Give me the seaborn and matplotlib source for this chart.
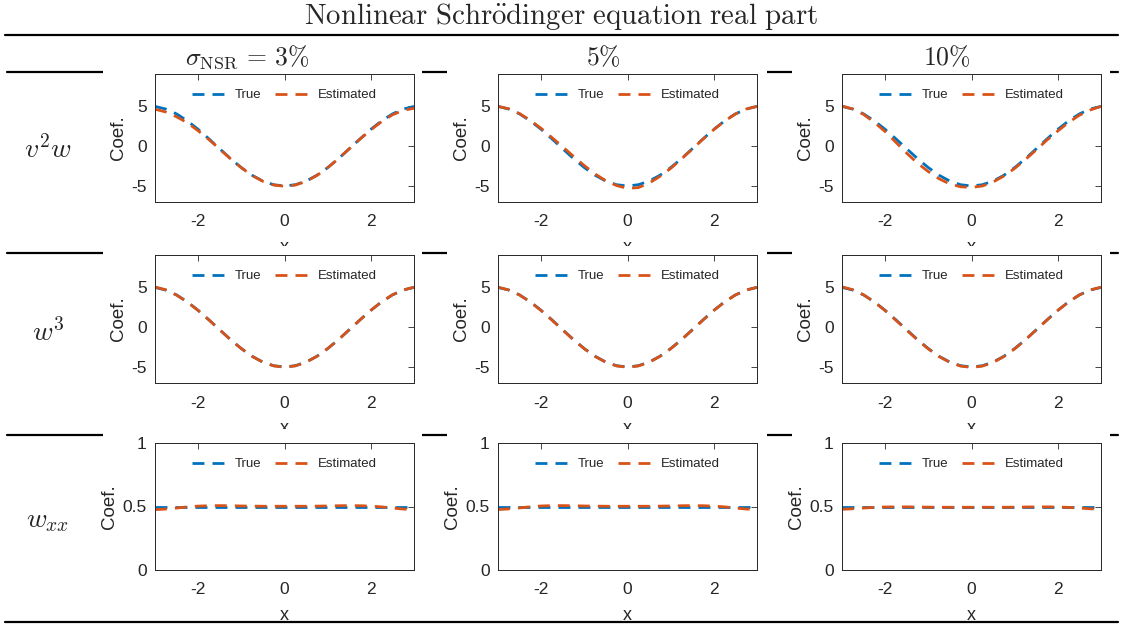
import numpy as np
import pandas as pd
import matplotlib
matplotlib.use("Agg")
import matplotlib.pyplot as plt
from matplotlib.lines import Line2D
from matplotlib.patches import Rectangle
import seaborn as sns

# ---------------- data ----------------
x_vals = [-3.0, -2.75, -2.5, -2.25, -2.0, -1.75, -1.5, -1.25, -1.0, -0.75, -0.5, -0.25,
          0.0, 0.25, 0.5, 0.75, 1.0, 1.25, 1.5, 1.75, 2.0, 2.25, 2.5, 2.75, 3.0]

true_v2w = [4.95, 4.62, 4.01, 3.14, 2.08, 0.89, -0.35, -1.58, -2.70, -3.66, -4.39, -4.84,
            -5.00, -4.84, -4.39, -3.66, -2.70, -1.58, -0.35, 0.89, 2.08, 3.14, 4.01, 4.62, 4.95]
est_v2w_3 = [4.60, 4.25, 3.65, 2.90, 1.90, 0.80, -0.40, -1.60, -2.72, -3.68, -4.42, -4.88,
             -5.03, -4.88, -4.42, -3.68, -2.72, -1.58, -0.35, 0.86, 2.02, 3.05, 3.90, 4.45, 4.72]
est_v2w_5 = [4.95, 4.65, 4.05, 3.20, 2.20, 1.05, -0.10, -1.30, -2.45, -3.50, -4.35, -4.95,
             -5.30, -5.20, -4.65, -3.80, -2.80, -1.62, -0.38, 0.86, 2.05, 3.12, 4.00, 4.62, 4.95]
est_v2w_10 = [5.00, 4.62, 3.95, 2.95, 1.80, 0.45, -0.90, -2.15, -3.20, -4.10, -4.75, -5.10,
              -5.18, -5.00, -4.50, -3.75, -2.80, -1.68, -0.48, 0.75, 1.88, 2.95, 3.85, 4.50, 4.95]

true_w3 = [4.95, 4.62, 4.01, 3.14, 2.08, 0.89, -0.35, -1.58, -2.70, -3.66, -4.39, -4.84,
           -5.00, -4.84, -4.39, -3.66, -2.70, -1.58, -0.35, 0.89, 2.08, 3.14, 4.01, 4.62, 4.95]
est_w3_3 = [5.00, 4.65, 3.98, 3.12, 2.06, 0.88, -0.36, -1.58, -2.70, -3.67, -4.40, -4.86,
            -5.02, -4.86, -4.40, -3.67, -2.70, -1.58, -0.34, 0.90, 2.08, 3.15, 4.02, 4.63, 4.97]
est_w3_5 = [4.97, 4.63, 4.00, 3.12, 2.05, 0.86, -0.38, -1.60, -2.72, -3.68, -4.41, -4.87,
            -5.03, -4.87, -4.41, -3.68, -2.72, -1.60, -0.37, 0.87, 2.06, 3.13, 4.00, 4.62, 4.96]
est_w3_10 = [5.02, 4.66, 4.02, 3.12, 2.04, 0.84, -0.40, -1.62, -2.74, -3.70, -4.43, -4.89,
             -5.05, -4.89, -4.43, -3.70, -2.73, -1.60, -0.36, 0.88, 2.07, 3.14, 4.01, 4.63, 4.98]

true_wxx = [0.5] * 25
est_wxx_3 = [0.475, 0.480, 0.488, 0.497, 0.503, 0.506, 0.507, 0.506, 0.504, 0.503, 0.502, 0.502,
             0.502, 0.502, 0.502, 0.503, 0.504, 0.506, 0.507, 0.506, 0.503, 0.497, 0.488, 0.480, 0.475]
est_wxx_5 = [0.476, 0.481, 0.489, 0.498, 0.504, 0.507, 0.507, 0.506, 0.504, 0.503, 0.502, 0.502,
             0.502, 0.502, 0.502, 0.503, 0.504, 0.506, 0.507, 0.506, 0.503, 0.497, 0.488, 0.480, 0.475]
est_wxx_10 = [0.478, 0.482, 0.488, 0.493, 0.496, 0.497, 0.497, 0.496, 0.495, 0.494, 0.494, 0.494,
              0.494, 0.494, 0.494, 0.494, 0.495, 0.496, 0.497, 0.497, 0.496, 0.493, 0.488, 0.482, 0.478]

title_text = r"$\mathrm{Nonlinear\ Schr\ddot{o}dinger\ equation\ real\ part}$"
col_labels = [r"$\sigma_{\mathrm{NSR}} \,=\, 3\%$", r"$5\%$", r"$10\%$"]
row_labels = [r"$v^2w$", r"$w^3$", r"$w_{xx}$"]
series_names = ["True", "Estimated"]

panels = [
    [(true_v2w, est_v2w_3), (true_v2w, est_v2w_5), (true_v2w, est_v2w_10)],
    [(true_w3, est_w3_3), (true_w3, est_w3_5), (true_w3, est_w3_10)],
    [(true_wxx, est_wxx_3), (true_wxx, est_wxx_5), (true_wxx, est_wxx_10)],
]
row_ylims = [(-7, 9), (-7, 9), (0, 1)]
row_yticks = [[-5, 0, 5], [-5, 0, 5], [0, 0.5, 1]]
row_yticklabels = [["-5", "0", "5"], ["-5", "0", "5"], ["0", "0.5", "1"]]

# ---------------- styling ----------------
sns.set_theme(style="white")
plt.rcParams["font.family"] = ["Liberation Sans", "DejaVu Sans"]
plt.rcParams["mathtext.fontset"] = "cm"

W, H = 1122, 630
fig = plt.figure(figsize=(W / 100, H / 100), dpi=100)
fig.patch.set_facecolor("white")

blue = "#0072BD"
orange = "#D95319"
axc = "#262626"
LW = 2.0
DASH = (4.3, 2.9)

def fx(px):
    return px / W

def fy(py):
    return 1 - py / H

# table rules
def hrule(y, x0=5, x1=1118, z=0):
    fig.add_artist(Line2D([fx(x0), fx(x1)], [fy(y), fy(y)], transform=fig.transFigure,
                          color="black", lw=1.6, zorder=z))

hrule(35, 5, 1118, z=30)
hrule(72, 7, 1118, z=0)
hrule(253, 7, 1118, z=0)
hrule(435, 7, 1118, z=0)
hrule(622, 5, 1118, z=30)

cell_x = [(103, 422), (447, 767), (792, 1110)]
cell_y = [(62, 248), (246, 430), (429, 621)]
ax_x = [(155, 414), (498, 757), (842, 1101)]
ax_y = [(74, 202), (255, 383), (443, 570)]

for r in range(3):
    for c in range(3):
        # white cell background (hides rule and clips label of row above)
        cx0, cx1 = cell_x[c]
        cy0, cy1 = cell_y[r]
        fig.add_artist(Rectangle((fx(cx0), fy(cy1)), fx(cx1 - cx0), (cy1 - cy0) / H,
                                 transform=fig.transFigure, facecolor="white",
                                 edgecolor="none", zorder=2 * r + 1))
        x0, x1 = ax_x[c]
        y0, y1 = ax_y[r]
        ax = fig.add_axes([fx(x0), fy(y1), fx(x1 - x0), (y1 - y0) / H])
        ax.set_zorder(2 * r + 2)
        tv, ev = panels[r][c]
        df = pd.DataFrame({
            "x": x_vals * 2,
            "Coef.": list(tv) + list(ev),
            "series": [series_names[0]] * len(x_vals) + [series_names[1]] * len(x_vals),
        })
        sns.lineplot(data=df, x="x", y="Coef.", hue="series", style="series",
                     palette={"True": blue, "Estimated": orange},
                     dashes={"True": DASH, "Estimated": DASH},
                     linewidth=LW, ax=ax, legend=False)
        ax.set_xlim(-3, 3)
        ax.set_ylim(*row_ylims[r])
        ax.set_xticks([-2, 0, 2])
        ax.set_xticklabels(["-2", "0", "2"])
        ax.set_yticks(row_yticks[r])
        ax.set_yticklabels(row_yticklabels[r])
        ax.tick_params(direction="in", length=4, width=0.6, colors=axc,
                       labelsize=12.5, top=True, right=True, pad=6)
        ax.tick_params(axis="x", pad=9)
        for sp in ax.spines.values():
            sp.set_visible(True)
            sp.set_color(axc)
            sp.set_linewidth(0.7)
        ax.set_xlabel("x", fontsize=13, color=axc, labelpad=7)
        ax.set_ylabel("Coef.", fontsize=13.5, color=axc, labelpad=3)
        handles = [Line2D([], [], color=blue, lw=LW, dashes=DASH),
                   Line2D([], [], color=orange, lw=LW, dashes=DASH)]
        ax.legend(handles, series_names, loc="upper center", ncol=2, frameon=False,
                  fontsize=9.5, handlelength=2.45, columnspacing=1.0, handletextpad=0.8,
                  borderaxespad=0.75)

# texts
fig.text(fx(561), fy(16), title_text, ha="center", va="center", fontsize=20.8, zorder=40)
col_x = [247, 603, 947]
for c in range(3):
    fig.text(fx(col_x[c]), fy(57), col_labels[c], ha="center", va="center",
             fontsize=18.5, zorder=40)
row_yc = [150, 333, 521]
for r in range(3):
    fig.text(fx(48), fy(row_yc[r]), row_labels[r], ha="center", va="center",
             fontsize=20, zorder=40)

fig.savefig("out.png", dpi=100, facecolor="white")
